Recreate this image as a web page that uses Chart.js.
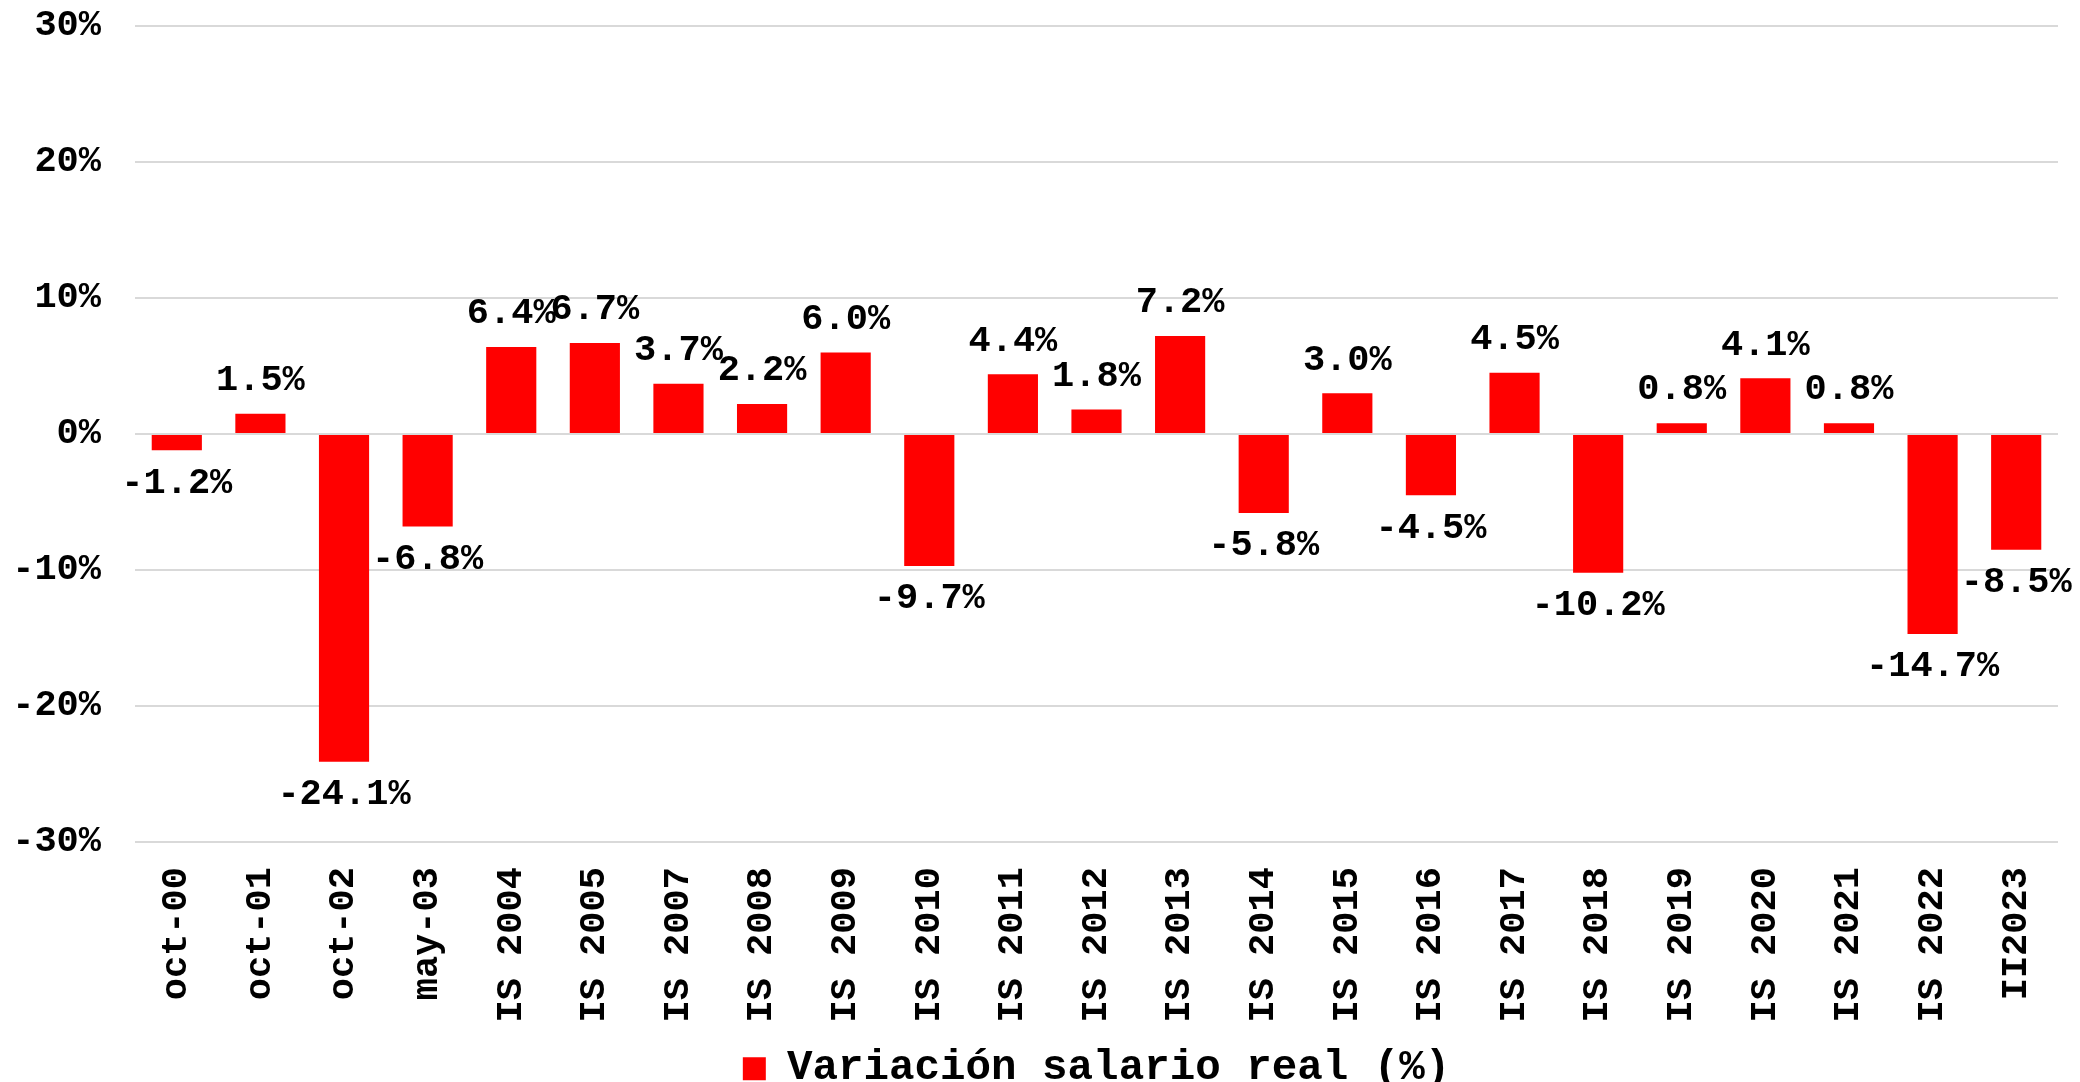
<!DOCTYPE html>
<html>
<head>
<meta charset="utf-8">
<script src="https://cdn.jsdelivr.net/npm/chart.js@4.4.0/dist/chart.umd.min.js"></script>
<style>
  html, body { margin: 0; padding: 0; background: #fff; }
  #wrap { width: 2080px; height: 1082px; }
</style>
</head>
<body>
<div id="wrap"><canvas id="grafico"></canvas></div>
<script>
  const periodos = ['oct-00', 'oct-01', 'oct-02', 'may-03', 'IS 2004', 'IS 2005', 'IS 2007', 'IS 2008',
    'IS 2009', 'IS 2010', 'IS 2011', 'IS 2012', 'IS 2013', 'IS 2014', 'IS 2015', 'IS 2016', 'IS 2017',
    'IS 2018', 'IS 2019', 'IS 2020', 'IS 2021', 'IS 2022', 'II2023'];
  const variacion = [-1.2, 1.5, -24.1, -6.8, 6.4, 6.7, 3.7, 2.2, 6.0, -9.7, 4.4, 1.8, 7.2, -5.8, 3.0,
    -4.5, 4.5, -10.2, 0.8, 4.1, 0.8, -14.7, -8.5];
  const ticksY = [-30, -20, -10, 0, 10, 20, 30];

  const FUENTE = "'Liberation Mono', 'Courier New', monospace";

  // etiquetas de valor encima / debajo de cada barra
  const etiquetas = {
    id: 'etiquetas',
    afterDatasetsDraw(chart) {
      const ctx = chart.ctx;
      const meta = chart.getDatasetMeta(0);
      ctx.save();
      ctx.font = 'bold 37px ' + FUENTE;
      ctx.fillStyle = '#000';
      ctx.textAlign = 'center';
      ctx.textBaseline = 'middle';
      meta.data.forEach((bar, i) => {
        const v = variacion[i];
        const y = v >= 0 ? bar.y - 33 : bar.y + 33;
        ctx.fillText(v.toFixed(1) + '%', bar.x, y);
      });
      ctx.restore();
    }
  };

  new Chart(document.getElementById('grafico'), {
    type: 'bar',
    data: {
      labels: periodos,
      datasets: [{
        label: 'Variación salario real (%)',
        data: variacion,
        backgroundColor: '#ff0000',
        borderWidth: 0,
        barPercentage: 0.6,
        categoryPercentage: 1
      }]
    },
    options: {
      responsive: true,
      maintainAspectRatio: false,
      animation: false,
      layout: {padding: {top: 26, right: 22, left: 0, bottom: -18}},
      plugins: {
        tooltip: {enabled: false},
        legend: {
          position: 'bottom',
          fullSize: false,
          labels: {
            color: '#000',
            boxWidth: 23,
            boxHeight: 23,
            padding: 0,
            font: {family: FUENTE, size: 42.5, weight: 'bold', lineHeight: 1}
          }
        }
      },
      scales: {
        x: {
          afterFit: s => { s.paddingRight = 0; s.paddingLeft = 0; },
          grid: {display: false, drawTicks: false},
          border: {display: false},
          ticks: {
            color: '#000',
            minRotation: 90,
            maxRotation: 90,
            padding: 25,
            font: {family: FUENTE, size: 37, weight: 'bold'}
          }
        },
        y: {
          min: ticksY[0],
          max: ticksY[ticksY.length - 1],
          afterBuildTicks: s => { s.ticks = ticksY.map(v => ({value: v})); },
          afterFit: s => { s.width = 135; s.paddingTop = 0; s.paddingBottom = 0; },
          grid: {color: '#d9d9d9', lineWidth: 2, drawTicks: false},
          border: {display: false},
          ticks: {
            color: '#000',
            padding: 34,
            callback: v => v + '%',
            font: {family: FUENTE, size: 37, weight: 'bold'}
          }
        }
      }
    },
    plugins: [etiquetas]
  });
</script>
</body>
</html>
